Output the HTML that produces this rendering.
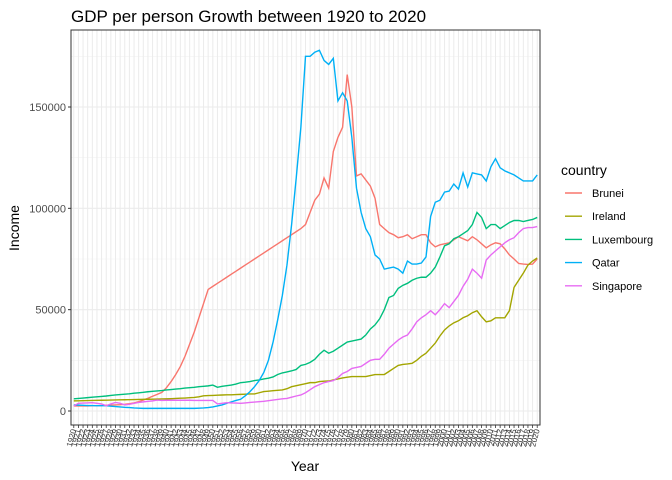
<!DOCTYPE html>
<html><head><meta charset="utf-8"><style>body{margin:0;background:#fff}svg{display:block;font-family:"Liberation Sans",sans-serif}</style></head>
<body>
<svg id="c" width="672" height="480"></svg>
<script>
const years=[];for(let y=1920;y<=2020;y++)years.push(y);
const brunei=[2500,2500,2500,2500,2600,2600,2700,2800,2900,3000,3100,
3300,3600,4000,4600,5400,6300,7300,8200,9200,11500,14500,18000,22000,27000,33000,39000,46000,53000,60000,
61500,63000,64500,66000,67500,69000,70500,72000,73500,75000,76500,78000,79500,81000,82500,84000,85500,87000,88500,90000,92000,
98000,104000,107000,115000,110000,128000,135000,140000,166000,150000,116000,117000,114000,111000,105000,92000,90000,88000,87000,85500,86000,87000,85000,86000,87000,87000,83000,81000,82000,82500,83000,84500,86000,85000,84000,86000,84500,82500,80500,82000,83000,82500,80000,77000,75000,72800,72500,72300,72500,75000];
const qatar=[3000,2900,2800,2700,2700,2600,2600,2600,2400,2200,2000,
1800,1700,1500,1400,1300,1300,1300,1300,1300,1300,1300,1300,1300,1300,1300,1300,1400,1500,1700,
2000,2500,3000,3800,4500,5200,5800,7500,9500,12000,15000,19000,25000,34000,45000,57000,72000,92000,115000,140000,175000,
175000,177000,178000,173000,171000,174000,153000,157000,153000,135000,110000,98000,90000,86000,77000,75000,70000,70500,71000,70000,68000,74000,72500,72500,73000,76000,96000,103000,104000,108000,108500,112000,109500,117500,110500,117500,117000,116500,113500,120500,124500,120000,118500,117500,116500,115000,113500,113500,113500,116500];
const luxembourg=[6000,6200,6400,6600,6800,7000,7200,7400,7700,7900,8100,8300,8500,8800,9000,9200,9500,9700,9900,10100,10400,10600,10800,11000,11300,11500,11700,12000,12200,12400,12800,
11700,12200,12500,12800,13300,14000,14200,14500,15000,15300,15800,16200,16800,18000,18800,19300,19800,20500,22500,23000,
24000,25500,28000,30000,28500,29500,31000,32500,34000,34500,35000,35500,37500,40500,42500,45500,50000,56000,57000,60500,62000,63000,64500,65500,66000,66000,68000,71000,76000,81500,82500,85000,86000,87500,89000,92000,98000,95500,90000,92000,92000,90000,91500,93000,94000,94000,93500,94000,94500,95500];
const ireland=[5000,5050,5100,5150,5200,5250,5300,5350,5400,5450,5500,5550,5600,5650,5700,5750,5800,5850,5900,5950,6000,6100,6200,6300,6400,6550,6700,
7000,7500,7600,7700,7800,7900,8000,8000,8100,8200,8300,8400,8400,9000,9600,9800,10000,10200,10400,11000,12000,12500,13000,13500,
14000,14000,14500,14700,14800,15300,15800,16300,16700,17000,17000,17000,17000,17500,18000,18000,18000,19500,21000,22500,23000,23200,23500,25000,27000,28500,31000,33500,37000,40000,42000,43500,44500,46000,47000,48500,49500,46500,44000,44500,46000,46000,46000,49500,61000,64500,68000,72000,74000,75500];
const singapore=[2500,3800,3900,4000,4100,3800,3500,2600,3500,4200,3800,3000,3300,3800,4200,4500,4800,5000,5400,5200,5300,5300,5300,5300,5300,5300,5200,5200,5200,5200,5200,
3500,3800,4100,4000,3900,3800,4000,4200,4400,4600,4800,5100,5400,5700,6000,6200,6800,7400,7900,9000,
10500,12000,13000,14000,14500,15000,16500,18500,19500,21000,21500,22000,23500,25000,25500,25500,28000,31000,33000,35000,36500,37500,40500,44000,46000,47500,49500,47500,50000,53000,51000,54000,57000,61500,65000,70000,68000,65500,74500,77000,79000,81000,83000,84500,85500,88000,90000,90500,90500,91000];
const yTicks=[0,50000,100000,150000];
const yMinor=[25000,75000,125000,175000];
const seriesNames=["Brunei","Ireland","Luxembourg","Qatar","Singapore"];
const seriesColors=["#F8766D","#A3A500","#00BF7D","#00B0F6","#E76BF3"];
const seriesData=[brunei,ireland,luxembourg,qatar,singapore];

const L=71,R=540,T=30,B=425;
const step=(R-L)/(years.length-1+1.2);
const xs=i=>L+(0.6+i)*step;
const ys=v=>411-v*(304/150000);
const NS="http://www.w3.org/2000/svg";
const svg=document.getElementById('c');
function mk(t,a,p){const e=document.createElementNS(NS,t);for(const k in a)e.setAttribute(k,a[k]);(p||svg).appendChild(e);return e;}
const bg=mk('rect',{x:L,y:T,width:R-L,height:B-T,fill:'#fff'});


const grid=mk('g',{});


yMinor.forEach(v=>mk('line',{x1:L,x2:R,y1:ys(v),y2:ys(v),stroke:'#f2f2f2','stroke-width':0.6},grid));
years.forEach((y,i)=>mk('line',{x1:xs(i),x2:xs(i),y1:T,y2:B,stroke:'#ebebeb','stroke-width':1},grid));
yTicks.forEach(v=>mk('line',{x1:L,x2:R,y1:ys(v),y2:ys(v),stroke:'#ebebeb','stroke-width':1.1},grid));
seriesData.forEach((d,s)=>{
 const p=mk('polyline',{points:d.map((v,i)=>xs(i).toFixed(2)+','+ys(v).toFixed(2)).join(' '),fill:'none',stroke:seriesColors[s],'stroke-width':1.4});
 
 
});
const border=mk('rect',{x:L,y:T,width:R-L,height:B-T,fill:'none',stroke:'#333','stroke-width':1});


const yax=mk('g',{});


yTicks.forEach(v=>{mk('line',{x1:L-3,x2:L,y1:ys(v),y2:ys(v),stroke:'#333'},yax);
 const t=mk('text',{x:L-5,y:ys(v)+4,'text-anchor':'end','font-size':11,fill:'#4d4d4d'},yax);t.textContent=v;});
const xax=mk('g',{});


years.forEach((y,i)=>{mk('line',{x1:xs(i),x2:xs(i),y1:B,y2:B+3,stroke:'#333','stroke-width':0.8},xax);
 const t=mk('text',{x:0,y:0,'text-anchor':'end','font-size':8,fill:'#333',transform:`translate(${xs(i)+2.5},${B+5}) rotate(-75)`},xax);t.textContent=y;});
function txt(s,a,n){const t=mk('text',a);t.textContent=s;return t;}
txt('GDP per person Growth between 1920 to 2020',{x:71,y:22,'font-size':17,fill:'#000'},'chart-title');
txt('Year',{x:305,y:471,'text-anchor':'middle','font-size':14,fill:'#000'},'x-axis-title');
txt('Income',{x:0,y:0,'text-anchor':'middle','font-size':14,fill:'#000',transform:'translate(19,228) rotate(-90)'},'y-axis-title');
const lg=mk('g',{});


const lt=mk('text',{x:561,y:175,'font-size':14,fill:'#000'},lg);lt.textContent='country';
seriesNames.forEach((n,i)=>{const g=mk('g',{},lg);
 
 
 const cy=193+i*23.2;
 mk('line',{x1:565,x2:582,y1:cy,y2:cy,stroke:seriesColors[i],'stroke-width':1.4},g);
 const t=mk('text',{x:592,y:cy+4,'font-size':11,fill:'#000'},g);t.textContent=n;});
</script>
</body></html>
